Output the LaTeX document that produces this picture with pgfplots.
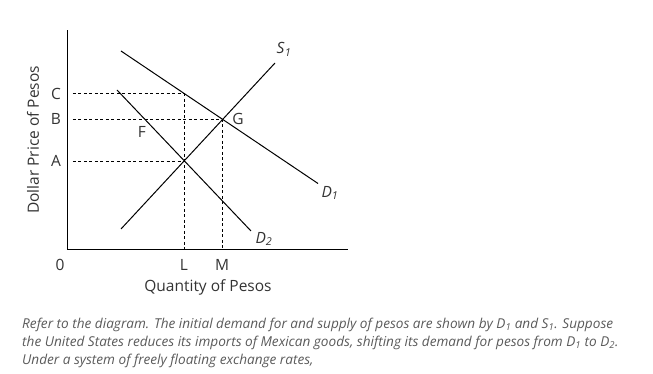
\documentclass[border=0pt]{standalone}
\usepackage{pgfplots}
\pgfplotsset{compat=1.18}
\usepackage{fontspec}
\setmainfont{Open Sans}
\definecolor{lab}{HTML}{333333}
\definecolor{cap}{HTML}{5A5A5A}
\tikzset{lbl/.style={font=\fontsize{15.5}{18}\selectfont, text=lab, inner sep=0pt}}
\tikzset{capt/.style={anchor=west, inner sep=0pt, font=\fontsize{13.6}{16}\selectfont\itshape, text=cap}}
\begin{document}
\begin{tikzpicture}
\begin{axis}[
  x=1pt, y=1pt,
  xmin=0, xmax=280, ymin=0, ymax=220,
  axis lines=left,
  axis line style={-, line width=1pt, black},
  xtick=\empty, ytick=\empty,
  clip=false,
]
% bounding box of the whole picture
\path (axis cs:-68,-124) rectangle (axis cs:585,250);
% dashed guides
\addplot[black, line width=0.7pt, dash pattern=on 3pt off 2.5pt] coordinates {(5,156.5) (116,156.5)};
\addplot[black, line width=0.7pt, dash pattern=on 3pt off 2.5pt] coordinates {(5,131) (154,131)};
\addplot[black, line width=0.7pt, dash pattern=on 3pt off 2.5pt] coordinates {(5,89) (116,89)};
\addplot[black, line width=0.7pt, dash pattern=on 3pt off 2.5pt] coordinates {(116,156.5) (116,0)};
\addplot[black, line width=0.7pt, dash pattern=on 3pt off 2.5pt] coordinates {(154,131) (154,0)};
% curves
\addplot[black, line width=1pt] coordinates {(53,21) (207,187)};   % S1
\addplot[black, line width=1pt] coordinates {(53,199) (250,66.5)}; % D1
\addplot[black, line width=1pt] coordinates {(49,160) (183,19)};   % D2
% labels
\node[lbl] at (axis cs:216,201) {\textit{S}\textsubscript{\textit{1}}};
\node[lbl] at (axis cs:262,57) {\textit{D}\textsubscript{\textit{1}}};
\node[lbl] at (axis cs:196,11) {\textit{D}\textsubscript{\textit{2}}};
\node[lbl] at (axis cs:74,118) {F};
\node[lbl] at (axis cs:170,131) {G};
\node[lbl] at (axis cs:-12,156) {C};
\node[lbl] at (axis cs:-12,131) {B};
\node[lbl] at (axis cs:-12,89) {A};
\node[lbl] at (axis cs:-8,-15) {0};
\node[lbl] at (axis cs:116,-15) {L};
\node[lbl] at (axis cs:154,-15) {M};
\node[lbl] at (axis cs:140,-37) {Quantity of Pesos};
\node[lbl, rotate=90] at (axis cs:-35,110) {Dollar Price of Pesos};
% caption
\node[capt] at (axis cs:-46,-75) {Refer to the diagram. The initial demand for and supply of pesos are shown by \textit{D}\textsubscript{1} and \textit{S}\textsubscript{1}. Suppose};
\node[capt] at (axis cs:-46,-93) {the United States reduces its imports of Mexican goods, shifting its demand for pesos from \textit{D}\textsubscript{1} to \textit{D}\textsubscript{2}.};
\node[capt] at (axis cs:-46,-111) {Under a system of freely floating exchange rates,};
\end{axis}
\end{tikzpicture}
\end{document}
